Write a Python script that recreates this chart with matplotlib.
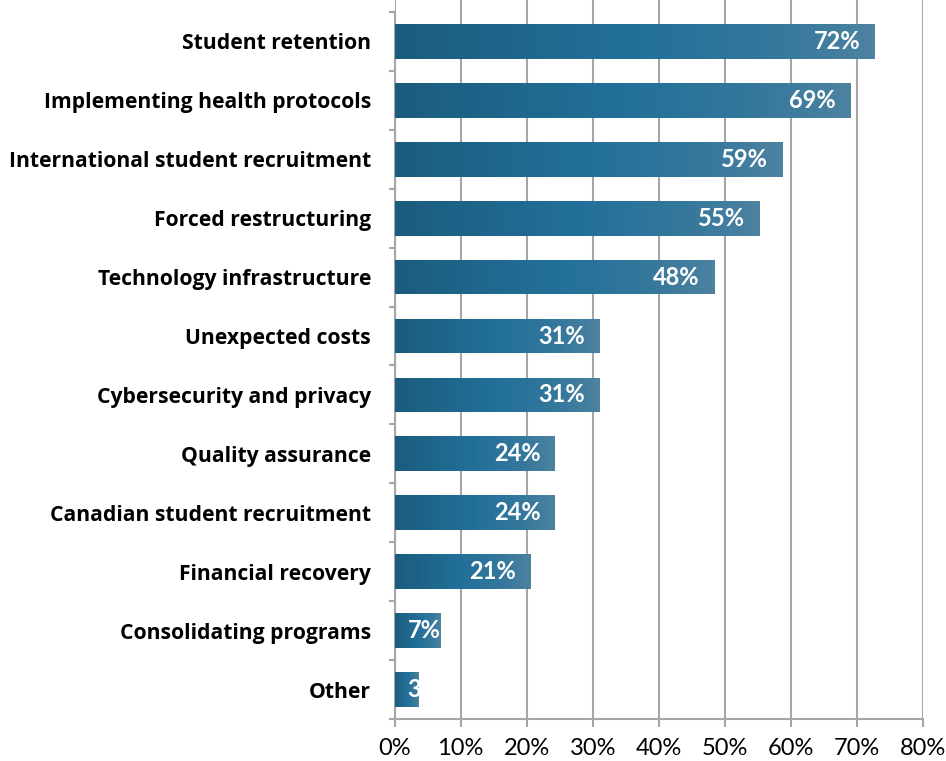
import numpy as np
import matplotlib
matplotlib.use("Agg")
import matplotlib.pyplot as plt
from matplotlib.colors import LinearSegmentedColormap
from matplotlib.ticker import FixedLocator, PercentFormatter

categories = [
    "Student retention",
    "Implementing health protocols",
    "International student recruitment",
    "Forced restructuring",
    "Technology infrastructure",
    "Unexpected costs",
    "Cybersecurity and privacy",
    "Quality assurance",
    "Canadian student recruitment",
    "Financial recovery",
    "Consolidating programs",
    "Other",
]
values = [72.6, 68.9, 58.6, 55.2, 48.3, 31.0, 31.0, 24.2, 24.2, 20.5, 6.9, 3.5]
value_labels = ["72%", "69%", "59%", "55%", "48%", "31%", "31%", "24%", "24%", "21%", "7%", "3%"]
x_ticks = [0, 10, 20, 30, 40, 50, 60, 70, 80]

FONT = "Lato"
CAT_FONT = "Open Sans"
GRAY = "#a6a6a6"
cmap = LinearSegmentedColormap.from_list(
    "bar", [(0.0, "#1b5c7d"), (0.5, "#22709a"), (0.8, "#35789c"), (1.0, "#4d82a0")])

fig = plt.figure(figsize=(9.46, 7.61), dpi=100)
ax = fig.add_axes([394.5 / 946, 1 - 719 / 761, (923 - 394.5) / 946, 719 / 761])

ypos = np.arange(len(categories))
bar_h = 0.59
bars = ax.barh(ypos, values, height=bar_h, color=cmap(0.5), zorder=2, linewidth=0)

grad = np.linspace(0, 1, 256).reshape(1, -1)
for b, v, y in zip(bars, values, ypos):
    im = ax.imshow(grad, cmap=cmap, aspect="auto", zorder=3,
                   extent=[0, v, y + bar_h / 2, y - bar_h / 2], interpolation="bilinear")
    im.set_clip_path(b)

ax.set_xlim(0, 80)
ax.set_ylim(11.5, -0.5 - 12 / 59)

# grid
ax.xaxis.set_major_locator(FixedLocator(x_ticks))
ax.xaxis.set_major_formatter(PercentFormatter(decimals=0))
ax.grid(axis="x", color=GRAY, linewidth=1.5, zorder=0)
ax.set_axisbelow(True)

for s in ["top", "right"]:
    ax.spines[s].set_visible(False)
for s in ["left", "bottom"]:
    ax.spines[s].set_color(GRAY)
    ax.spines[s].set_linewidth(1.5)
ax.spines["left"].set_bounds(11.5, -0.5)

ax.set_yticks(ypos)
ax.set_yticklabels(categories, fontfamily=CAT_FONT, fontweight="bold", fontsize=15.2)
ax.yaxis.set_minor_locator(FixedLocator(np.arange(-0.5, 12, 1.0)))
ax.tick_params(axis="y", which="major", length=0, pad=17)
ax.tick_params(axis="y", which="minor", length=4, width=1.5, color=GRAY, direction="out")
ax.tick_params(axis="x", which="major", length=6, width=1.5, color=GRAY, direction="out",
               pad=8, labelsize=17)
for t in ax.get_xticklabels():
    t.set_fontfamily(FONT)

# data labels
fig.canvas.draw()
renderer = fig.canvas.get_renderer()
to_disp = ax.transData
inv = ax.transData.inverted()
for b, v, y, lab in zip(bars, values, ypos, value_labels):
    x_end_px = to_disp.transform((v, y))[0]
    x0_px = to_disp.transform((0, y))[0]
    t = ax.text(v, y, lab, color="white", fontfamily=FONT, fontweight="bold",
                fontsize=17, ha="right", va="center", zorder=4)
    bb = t.get_window_extent(renderer)
    w = bb.width
    left_px = max(x_end_px - 14 - w, x0_px + 13)
    t.set_x(inv.transform((left_px, 0))[0])
    t.set_ha("left")
    t.set_clip_path(b)

fig.savefig("out.png", dpi=100)
